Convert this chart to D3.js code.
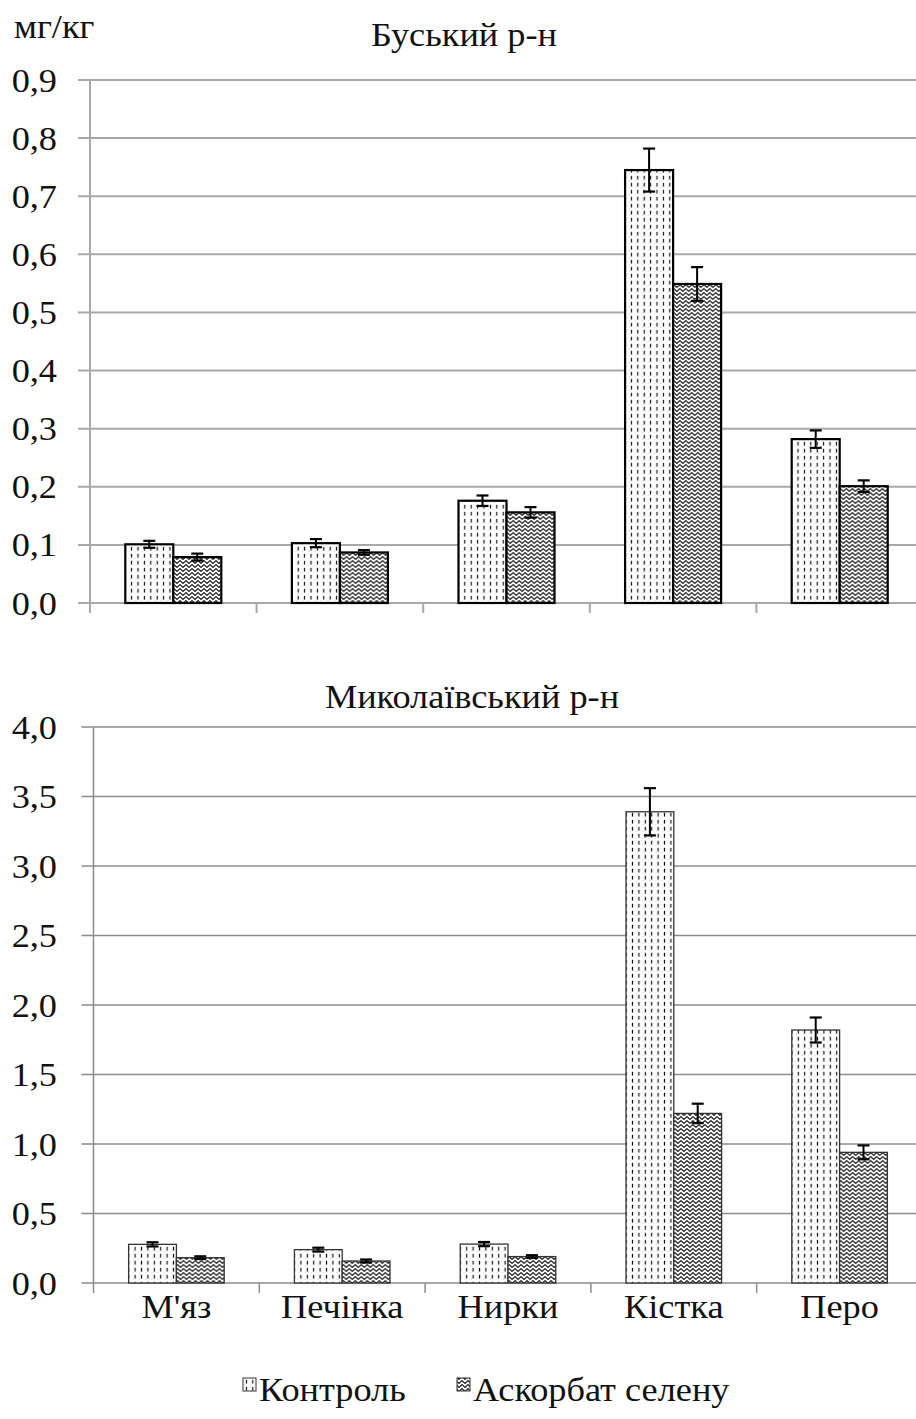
<!DOCTYPE html>
<html>
<head>
<meta charset="utf-8">
<script src="https://cdn.jsdelivr.net/npm/d3@7"></script>
<style>
  html, body { margin: 0; padding: 0; background: #fff; }
  svg { display: block; font-family: "Liberation Serif", "Times New Roman", serif; }
</style>
</head>
<body>
<svg id="chart" width="916" height="1419"></svg>
<script>
// categories and series
const categories = ["М'яз", "Печінка", "Нирки", "Кістка", "Перо"];
const seriesNames = ["Контроль", "Аскорбат селену"];

// Буський р-н
const buskControl = [0.101, 0.103, 0.176, 0.745, 0.282];
const buskControlErr = [0.006, 0.007, 0.009, 0.037, 0.015];
const buskSelen = [0.079, 0.087, 0.156, 0.549, 0.201];
const buskSelenErr = [0.006, 0.004, 0.009, 0.029, 0.010];
const buskTicks = [0, 0.1, 0.2, 0.3, 0.4, 0.5, 0.6, 0.7, 0.8, 0.9];

// Миколаївський р-н
const mykControl = [0.278, 0.240, 0.280, 3.39, 1.82];
const mykControlErr = [0.015, 0.014, 0.015, 0.17, 0.09];
const mykSelen = [0.182, 0.158, 0.190, 1.22, 0.94];
const mykSelenErr = [0.010, 0.011, 0.010, 0.07, 0.05];
const mykTicks = [0, 0.5, 1.0, 1.5, 2.0, 2.5, 3.0, 3.5, 4.0];

const svg = d3.select('#chart');
const fmt = v => d3.format('.1f')(v).replace('.', ',');
const FS = 33;      // text size
const SX = 1.1;     // source picture is a bit stretched sideways

// text at (x,y), widened a little like the original
function label(parent, x, y, anchor) {
  return parent.append('text')
    .attr('transform', `translate(${x},${y}) scale(${SX},1)`)
    .attr('text-anchor', anchor || 'start')
    .attr('font-size', FS)
    .attr('fill', '#111');
}

// hatch patterns
const defs = svg.append('defs');
const pDash = defs.append('pattern')
  .attr('id', 'pat-control')
  .attr('patternUnits', 'userSpaceOnUse')
  .attr('width', 6.4).attr('height', 7);
pDash.append('rect').attr('width', 6.4).attr('height', 7).attr('fill', '#fff');
pDash.append('rect').attr('x', 0.5).attr('y', 5).attr('width', 1).attr('height', 1).attr('fill', '#d4d4d4');
pDash.append('line')
  .attr('x1', 3.2).attr('x2', 3.2).attr('y1', 0.8).attr('y2', 4.6)
  .attr('stroke', '#111').attr('stroke-width', 1.2);

const pWeave = defs.append('pattern')
  .attr('id', 'pat-selen')
  .attr('patternUnits', 'userSpaceOnUse')
  .attr('width', 6).attr('height', 4);
pWeave.append('rect').attr('width', 6).attr('height', 4).attr('fill', '#fff');
pWeave.append('path')
  .attr('d', 'M-3,3.4 L0,0.6 L3,3.4 L6,0.6 L9,3.4')
  .attr('fill', 'none').attr('stroke', '#2a2a2a').attr('stroke-width', 1.3);

const fills = ['url(#pat-control)', 'url(#pat-selen)'];

function drawPanel(opts) {
  const { top, bottom, left, right, max, ticks, control, controlErr, selen, selenErr,
          title, titleX, titleY, barStroke, barStrokeW, gridColor, gridW } = opts;
  const g = svg.append('g');

  const y = d3.scaleLinear().domain([0, max]).range([bottom, top]);
  const x0 = d3.scaleBand().domain(categories).range([left, right]).padding(0);
  const x1 = d3.scaleBand().domain(seriesNames).range([0, x0.bandwidth()])
    .paddingInner(0).paddingOuter(0.735);

  // gridlines + y ticks
  g.append('g').selectAll('line').data(ticks).join('line')
    .attr('x1', left - 12).attr('x2', right)
    .attr('y1', d => y(d)).attr('y2', d => y(d))
    .attr('stroke', gridColor).attr('stroke-width', gridW);

  ticks.forEach(t => {
    label(g, 57, y(t), 'end').attr('dy', '0.35em').text(fmt(t));
  });

  // y axis line
  g.append('line')
    .attr('x1', left).attr('x2', left)
    .attr('y1', y(max)).attr('y2', bottom + 10)
    .attr('stroke', gridColor).attr('stroke-width', gridW);

  // category ticks
  g.append('g').selectAll('line').data(categories.slice(1)).join('line')
    .attr('x1', d => x0(d)).attr('x2', d => x0(d))
    .attr('y1', bottom).attr('y2', bottom + 10)
    .attr('stroke', gridColor).attr('stroke-width', gridW);

  const rows = categories.map((c, i) => ({
    cat: c,
    vals: [
      { s: seriesNames[0], v: control[i], e: controlErr[i], k: 0 },
      { s: seriesNames[1], v: selen[i], e: selenErr[i], k: 1 }
    ]
  }));

  const grp = g.append('g').selectAll('g').data(rows).join('g')
    .attr('transform', d => `translate(${x0(d.cat)},0)`);

  grp.selectAll('rect').data(d => d.vals).join('rect')
    .attr('x', d => x1(d.s))
    .attr('y', d => y(d.v))
    .attr('width', x1.bandwidth())
    .attr('height', d => bottom - y(d.v))
    .attr('fill', d => fills[d.k])
    .attr('stroke', barStroke)
    .attr('stroke-width', barStrokeW);

  // error bars
  const eb = grp.selectAll('g.err').data(d => d.vals).join('g').attr('class', 'err');
  const cx = d => x1(d.s) + x1.bandwidth() / 2;
  eb.append('line')
    .attr('x1', cx).attr('x2', cx)
    .attr('y1', d => y(d.v + d.e)).attr('y2', d => y(d.v - d.e))
    .attr('stroke', '#000').attr('stroke-width', 2);
  eb.append('line')
    .attr('x1', d => cx(d) - 6).attr('x2', d => cx(d) + 6)
    .attr('y1', d => y(d.v + d.e)).attr('y2', d => y(d.v + d.e))
    .attr('stroke', '#000').attr('stroke-width', 2.2);
  eb.append('line')
    .attr('x1', d => cx(d) - 6).attr('x2', d => cx(d) + 6)
    .attr('y1', d => y(d.v - d.e)).attr('y2', d => y(d.v - d.e))
    .attr('stroke', '#000').attr('stroke-width', 2.2);

  label(g, titleX, titleY, 'middle').text(title);

  return x0;
}

drawPanel({
  top: 80, bottom: 603, left: 90, right: 923, max: 0.9, ticks: buskTicks,
  control: buskControl, controlErr: buskControlErr, selen: buskSelen, selenErr: buskSelenErr,
  title: 'Буський р-н', titleX: 464, titleY: 46,
  barStroke: '#000', barStrokeW: 2.2, gridColor: '#a8a8a8', gridW: 2
});

const xBottom = drawPanel({
  top: 727, bottom: 1283, left: 93.5, right: 922.5, max: 4.0, ticks: mykTicks,
  control: mykControl, controlErr: mykControlErr, selen: mykSelen, selenErr: mykSelenErr,
  title: 'Миколаївський  р-н', titleX: 472, titleY: 708,
  barStroke: '#333', barStrokeW: 1.3, gridColor: '#8c8c8c', gridW: 1.5
});

// unit label
label(svg, 14, 38).text('мг/кг');

// category labels
categories.forEach(c => {
  label(svg, xBottom(c) + xBottom.bandwidth() / 2, 1318, 'middle').text(c);
});

// legend
const legendItems = [
  { name: seriesNames[0], x: 243, fill: fills[0] },
  { name: seriesNames[1], x: 457, fill: fills[1] }
];
legendItems.forEach(d => {
  svg.append('rect')
    .attr('x', d.x).attr('y', 1378)
    .attr('width', 13).attr('height', 13)
    .attr('fill', d.fill)
    .attr('stroke', '#333').attr('stroke-width', 1);
  label(svg, d.x + 16, 1401).text(d.name);
});
</script>
</body>
</html>
